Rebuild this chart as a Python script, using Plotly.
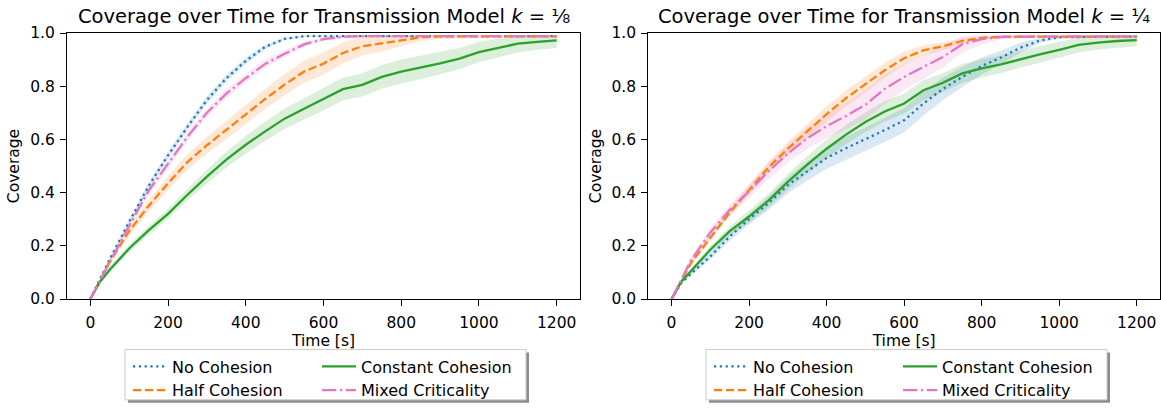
import plotly.graph_objects as go

# ---------------- data ----------------
time_s = [0, 25, 50, 100, 150, 200, 250, 300, 350, 400, 450, 500, 550, 600,
          650, 700, 750, 800, 850, 900, 950, 1000, 1050, 1100, 1150, 1200]

series_names = ["No Cohesion", "Half Cohesion", "Constant Cohesion", "Mixed Criticality"]

# k = 1/8 (left panel): mean coverage
no_coh_8 = [0, 0.075, 0.15, 0.29, 0.425, 0.54, 0.647, 0.748, 0.83, 0.895, 0.948, 0.978, 0.988,
            0.988, 0.988, 0.988, 0.988, 0.988, 0.988, 0.988, 0.988, 0.988, 0.988, 0.988, 0.988, 0.988]
half_coh_8 = [0, 0.07, 0.14, 0.255, 0.35, 0.435, 0.515, 0.578, 0.636, 0.693, 0.752, 0.806, 0.855,
              0.885, 0.925, 0.95, 0.96, 0.972, 0.984, 0.987, 0.987, 0.987, 0.987, 0.987, 0.987, 0.987]
const_coh_8 = [0, 0.065, 0.11, 0.19, 0.258, 0.32, 0.392, 0.46, 0.524, 0.58, 0.63, 0.678, 0.715,
               0.752, 0.789, 0.805, 0.835, 0.855, 0.87, 0.886, 0.904, 0.928, 0.944, 0.96, 0.967, 0.972]
mixed_8 = [0, 0.07, 0.14, 0.275, 0.407, 0.507, 0.61, 0.70, 0.772, 0.83, 0.884, 0.922, 0.957,
           0.977, 0.986, 0.988, 0.988, 0.988, 0.988, 0.988, 0.988, 0.988, 0.988, 0.988, 0.988, 0.988]

# k = 1/8: spread (half width of shaded band)
no_coh_8_sd = [0, 0.004, 0.006, 0.01, 0.012, 0.013, 0.014, 0.014, 0.013, 0.012, 0.008, 0.005, 0.003,
               0.002, 0.002, 0.002, 0.002, 0.002, 0.002, 0.002, 0.002, 0.002, 0.002, 0.002, 0.002, 0.002]
half_coh_8_sd = [0, 0.006, 0.01, 0.018, 0.022, 0.026, 0.03, 0.032, 0.034, 0.036, 0.038, 0.04, 0.042,
                 0.042, 0.04, 0.035, 0.03, 0.022, 0.015, 0.01, 0.008, 0.006, 0.005, 0.005, 0.005, 0.005]
const_coh_8_sd = [0, 0.006, 0.01, 0.014, 0.016, 0.018, 0.022, 0.026, 0.03, 0.034, 0.036, 0.038, 0.04,
                  0.042, 0.043, 0.044, 0.045, 0.045, 0.044, 0.042, 0.04, 0.038, 0.035, 0.033, 0.03, 0.028]
mixed_8_sd = [0, 0.005, 0.008, 0.012, 0.014, 0.016, 0.017, 0.017, 0.017, 0.016, 0.015, 0.013, 0.01,
              0.007, 0.005, 0.003, 0.002, 0.002, 0.002, 0.002, 0.002, 0.002, 0.002, 0.002, 0.002, 0.002]

# k = 1/4 (right panel): mean coverage
no_coh_4 = [0, 0.06, 0.095, 0.16, 0.235, 0.3, 0.36, 0.428, 0.48, 0.53, 0.567, 0.6, 0.635,
            0.672, 0.735, 0.79, 0.835, 0.876, 0.908, 0.945, 0.972, 0.984, 0.986, 0.986, 0.986, 0.986]
half_coh_4 = [0, 0.07, 0.135, 0.23, 0.325, 0.41, 0.495, 0.565, 0.63, 0.695, 0.755, 0.806, 0.86,
              0.905, 0.935, 0.95, 0.97, 0.982, 0.986, 0.986, 0.986, 0.986, 0.986, 0.986, 0.986, 0.986]
const_coh_4 = [0, 0.065, 0.105, 0.185, 0.255, 0.31, 0.37, 0.44, 0.505, 0.565, 0.618, 0.665, 0.705,
               0.735, 0.785, 0.813, 0.848, 0.867, 0.882, 0.902, 0.92, 0.937, 0.955, 0.964, 0.97, 0.973]
mixed_4 = [0, 0.075, 0.145, 0.25, 0.335, 0.405, 0.48, 0.547, 0.604, 0.65, 0.688, 0.73, 0.79,
           0.835, 0.872, 0.91, 0.958, 0.977, 0.985, 0.987, 0.987, 0.987, 0.987, 0.987, 0.987, 0.987]

# k = 1/4: spread
no_coh_4_sd = [0, 0.005, 0.008, 0.012, 0.016, 0.02, 0.025, 0.03, 0.035, 0.04, 0.042, 0.044, 0.045,
               0.045, 0.045, 0.042, 0.038, 0.032, 0.025, 0.018, 0.01, 0.005, 0.003, 0.002, 0.002, 0.002]
half_coh_4_sd = [0, 0.005, 0.008, 0.012, 0.015, 0.018, 0.022, 0.025, 0.028, 0.03, 0.03, 0.03, 0.028,
                 0.025, 0.02, 0.015, 0.01, 0.006, 0.004, 0.003, 0.003, 0.003, 0.003, 0.003, 0.003, 0.003]
const_coh_4_sd = [0, 0.006, 0.01, 0.014, 0.018, 0.022, 0.026, 0.03, 0.033, 0.035, 0.036, 0.037, 0.038,
                  0.038, 0.038, 0.036, 0.035, 0.034, 0.033, 0.032, 0.031, 0.03, 0.028, 0.026, 0.025, 0.024]
mixed_4_sd = [0, 0.006, 0.01, 0.016, 0.02, 0.025, 0.03, 0.035, 0.04, 0.045, 0.05, 0.055, 0.055,
              0.05, 0.045, 0.04, 0.03, 0.02, 0.01, 0.006, 0.004, 0.004, 0.004, 0.004, 0.004, 0.004]

x_ticks = [0, 200, 400, 600, 800, 1000, 1200]
y_ticks = [0.0, 0.2, 0.4, 0.6, 0.8, 1.0]
panel_titles = ["Coverage over Time for Transmission Model <i>k</i> = \u215b",
                "Coverage over Time for Transmission Model <i>k</i> = \u00bc"]

# ---------------- styling ----------------
FONT = "DejaVu Sans"
colors = ["#1f77b4", "#ff7f0e", "#2ca02c", "#e377c2"]
fills = ["rgba(31,119,180,0.17)", "rgba(255,127,14,0.17)", "rgba(44,160,44,0.17)", "rgba(227,119,194,0.17)"]
dashes = ["2.2px,3.6px", "8.3px,3.6px", "solid", "14.4px,3.6px,2.2px,3.6px"]
LW = 2.3

W, H = 1161, 408
ML, MR, MT, MB = 67, 1, 33, 106
PW, PH = W - ML - MR, H - MT - MB


def px_x(p):
    return (p - ML) / PW


def px_y(p):
    return (MT + PH - p) / PH


dom_left = [px_x(67), px_x(580)]
dom_right = [px_x(648.3), px_x(1160)]

panels = [
    dict(means=[no_coh_8, half_coh_8, const_coh_8, mixed_8],
         sds=[no_coh_8_sd, half_coh_8_sd, const_coh_8_sd, mixed_8_sd],
         xa="x", ya="y", legs=["legend", "legend", "legend2", "legend2"]),
    dict(means=[no_coh_4, half_coh_4, const_coh_4, mixed_4],
         sds=[no_coh_4_sd, half_coh_4_sd, const_coh_4_sd, mixed_4_sd],
         xa="x2", ya="y2", legs=["legend3", "legend3", "legend4", "legend4"]),
]

fig = go.Figure()
for p in panels:
    # bands first
    for i in range(4):
        m, s = p["means"][i], p["sds"][i]
        hi = [min(v + e, 0.992) for v, e in zip(m, s)]
        lo = [max(v - e, 0.0) for v, e in zip(m, s)]
        fig.add_trace(go.Scatter(
            x=time_s + time_s[::-1], y=hi + lo[::-1], fill="toself",
            fillcolor=fills[i], line=dict(width=0, color=fills[i]), mode="lines",
            hoverinfo="skip", showlegend=False, xaxis=p["xa"], yaxis=p["ya"]))
    for i in range(4):
        fig.add_trace(go.Scatter(
            x=time_s, y=p["means"][i], mode="lines", name=series_names[i],
            line=dict(color=colors[i], width=LW, dash=dashes[i]),
            xaxis=p["xa"], yaxis=p["ya"], legend=p["legs"][i]))

TICK_FS = 15.5
axis_common = dict(
    showline=True, linecolor="black", linewidth=1.1, mirror=True,
    ticks="outside", ticklen=6, tickwidth=1.1, tickcolor="black",
    showgrid=False, zeroline=False,
    tickfont=dict(family=FONT, size=TICK_FS, color="black"),
)

xcommon = dict(axis_common, range=[-60, 1260], tickvals=x_ticks,
               ticktext=[str(v) for v in x_ticks], ticklabelstandoff=3,
               title=dict(text="Time [s]", font=dict(family=FONT, size=TICK_FS, color="black"), standoff=3))
ycommon = dict(axis_common, range=[0, 1], tickvals=y_ticks,
               ticktext=["%.1f" % v for v in y_ticks], ticklabelstandoff=2,
               title=dict(text="Coverage", font=dict(family=FONT, size=TICK_FS, color="black"), standoff=6))

leg_common = dict(orientation="v", bgcolor="rgba(0,0,0,0)", borderwidth=0,
                  font=dict(family=FONT, size=16, color="black"),
                  xanchor="left", yanchor="top", traceorder="normal", itemwidth=34)

LEG_TOP = 353
fig.update_layout(
    width=W, height=H,
    margin=dict(l=ML, r=MR, t=MT, b=MB),
    paper_bgcolor="white", plot_bgcolor="white",
    font=dict(family=FONT, color="black"),
    xaxis=dict(xcommon, domain=dom_left, anchor="y"),
    yaxis=dict(ycommon, anchor="x"),
    xaxis2=dict(xcommon, domain=dom_right, anchor="y2"),
    yaxis2=dict(ycommon, anchor="x2"),
    legend=dict(leg_common, x=px_x(128), y=px_y(LEG_TOP)),
    legend2=dict(leg_common, x=px_x(317), y=px_y(LEG_TOP)),
    legend3=dict(leg_common, x=px_x(128 + 581), y=px_y(LEG_TOP)),
    legend4=dict(leg_common, x=px_x(317 + 581), y=px_y(LEG_TOP)),
    showlegend=True,
)

# panel titles
for dom, txt in zip([dom_left, dom_right], panel_titles):
    fig.add_annotation(text=txt, x=(dom[0] + dom[1]) / 2, y=1, xref="paper", yref="paper",
                       xanchor="center", yanchor="bottom", yshift=3, showarrow=False,
                       font=dict(family=FONT, size=19.5, color="black"))

# legend frames (with drop shadow, matplotlib style)
for off in [0, 581]:
    x0, x1, y0, y1 = 125 + off, 526 + off, 353, 404
    fig.add_shape(type="rect", xref="paper", yref="paper",
                  x0=px_x(x0 + 3), x1=px_x(x1 + 3), y0=px_y(y0 + 3), y1=px_y(y1 + 3),
                  fillcolor="#8c8c8c", line=dict(width=0), layer="above")
    fig.add_shape(type="rect", xref="paper", yref="paper",
                  x0=px_x(x0), x1=px_x(x1), y0=px_y(y0), y1=px_y(y1),
                  fillcolor="white", line=dict(width=1, color="#cccccc"), layer="above")

fig.write_html("out.html", config={"displayModeBar": False},
               post_script="document.body.style.margin='0';document.body.style.overflow='hidden';")
